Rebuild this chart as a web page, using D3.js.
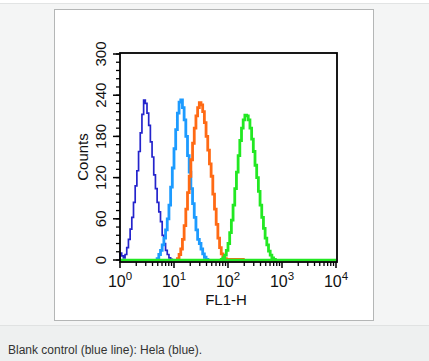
<!DOCTYPE html>
<html>
<head>
<meta charset="utf-8">
<script src="https://cdn.jsdelivr.net/npm/d3@7/dist/d3.min.js"></script>
<style>
  html, body { margin: 0; padding: 0; background: #f4f5f5; }
  svg { display: block; }
</style>
</head>
<body>
<svg id="chart" width="429" height="361"></svg>
<script>
// ---- data (bins are 1/32 decade channels on a 10^0..10^4 log axis) ----
const binsPerDecade = 32;
const xTickValues = [1, 10, 100, 1000, 10000];
const xTickExponents = ["0", "1", "2", "3", "4"];
const yTickValues = [0, 60, 120, 180, 240, 300];
const seriesNames = ["Blank control", "Sample A", "Sample B", "Sample C"];
const seriesColors = ["#2424cc", "#1d9bff", "#ff6a14", "#22e822"];
const seriesStartBin = [0, 22, 34, 60];
const darkBlueCounts = [10, 6, 3, 8, 18, 30, 45, 62, 84, 108, 130, 158, 185, 212, 233, 228, 214, 196, 172, 150, 124, 104, 84, 70, 56, 36, 24, 14, 8, 3, 1, 0];
const lightBlueCounts = [2, 8, 14, 22, 32, 44, 60, 80, 106, 134, 162, 190, 214, 230, 233, 222, 204, 180, 152, 128, 104, 82, 62, 44, 30, 24, 16, 9, 4, 1, 0];
const orangeCounts = [2, 8, 16, 30, 50, 74, 98, 122, 146, 170, 192, 210, 222, 229, 226, 216, 200, 180, 160, 140, 122, 96, 74, 52, 32, 18, 9, 4, 2, 1, 1, 1, 1, 1, 1, 1, 1, 1, 1, 0];
const greenCounts = [1, 3, 7, 14, 24, 40, 58, 80, 104, 128, 152, 174, 192, 204, 211, 210, 204, 192, 176, 158, 138, 120, 100, 80, 62, 46, 32, 22, 13, 7, 3, 1, 0];
const seriesCounts = [darkBlueCounts, lightBlueCounts, orangeCounts, greenCounts];
const seriesWidths = [1.7, 2.8, 2.8, 2.8];
const xLabel = "FL1-H";
const yLabel = "Counts";
const caption = "Blank control (blue line): Hela (blue).";

const svg = d3.select("#chart");
const font = "'Liberation Sans', Arial, Helvetica, sans-serif";

// page chrome
svg.append("rect").attr("x", 0).attr("y", 0).attr("width", 429).attr("height", 361).attr("fill", "#f4f5f5");
svg.append("rect").attr("x", 0).attr("y", 0).attr("width", 429).attr("height", 3).attr("fill", "#ffffff");
svg.append("line").attr("x1", 0).attr("x2", 429).attr("y1", 3.5).attr("y2", 3.5).attr("stroke", "#e2e4e4");
svg.append("rect").attr("x", 54.5).attr("y", 9.5).attr("width", 319).attr("height", 311)
  .attr("fill", "#ffffff").attr("stroke", "#b4b6b6");
svg.append("rect").attr("x", 0).attr("y", 326).attr("width", 429).attr("height", 35).attr("fill", "#eef0f0");
svg.append("line").attr("x1", 0).attr("x2", 429).attr("y1", 325.5).attr("y2", 325.5).attr("stroke", "#e0e2e2");
svg.append("text").attr("x", 8).attr("y", 354).attr("font-family", font).attr("font-size", 12)
  .attr("fill", "#333").text(caption);

// scales
const x = d3.scaleLog().domain([1, 10000]).range([120, 336]);
const y = d3.scaleLinear().domain([0, 300]).range([260, 54]);

const g = svg.append("g");

// histograms as step curves
const binX = b => Math.pow(10, b / binsPerDecade);
seriesCounts.forEach((counts, si) => {
  const start = seriesStartBin[si];
  const pts = [[binX(start), 0]];
  counts.forEach((c, k) => {
    pts.push([binX(start + k), c]);
    pts.push([binX(start + k + 1), c]);
  });
  pts.push([binX(start + counts.length), 0]);
  const line = d3.line().x(d => x(d[0])).y(d => y(d[1]));
  if (si === 3) {
    // green baseline across the whole axis
    g.append("path").attr("d", line([[1, 0], [10000, 0]]))
      .attr("stroke", seriesColors[si]).attr("stroke-width", 2.6).attr("fill", "none");
  }
  g.append("path").attr("d", line(pts)).attr("fill", "none")
    .attr("stroke", seriesColors[si]).attr("stroke-width", seriesWidths[si])
    .attr("stroke-linejoin", "miter");
});

// frame
svg.append("rect").attr("x", 120).attr("y", 53).attr("width", 217).attr("height", 209)
  .attr("fill", "none").attr("stroke", "#000").attr("stroke-width", 1.8);

// y axis ticks
const yMinor = d3.range(0, 301, 12);
const yAx = svg.append("g");
yAx.selectAll("line.minor").data(yMinor).enter().append("line")
  .attr("x1", 116).attr("x2", 120).attr("y1", d => y(d)).attr("y2", d => y(d))
  .attr("stroke", "#000").attr("stroke-width", 1.3);
yAx.selectAll("line.major").data(yTickValues).enter().append("line")
  .attr("x1", 113).attr("x2", 120).attr("y1", d => y(d)).attr("y2", d => y(d))
  .attr("stroke", "#000").attr("stroke-width", 1.5);
yAx.selectAll("text").data(yTickValues).enter().append("text")
  .attr("transform", d => `translate(106,${y(d)}) rotate(-90)`)
  .attr("text-anchor", "middle").attr("font-family", font).attr("font-size", 15)
  .attr("fill", "#111").text(d => d);

// x axis ticks
const xMinor = [];
for (let dec = 1; dec < 10000; dec *= 10) for (let m = 2; m <= 9; m++) xMinor.push(dec * m);
const xAx = svg.append("g");
xAx.selectAll("line.minor").data(xMinor).enter().append("line")
  .attr("x1", d => x(d)).attr("x2", d => x(d)).attr("y1", 262).attr("y2", 266)
  .attr("stroke", "#000").attr("stroke-width", 1.3);
xAx.selectAll("line.major").data(xTickValues).enter().append("line")
  .attr("x1", d => x(d)).attr("x2", d => x(d)).attr("y1", 262).attr("y2", 268)
  .attr("stroke", "#000").attr("stroke-width", 1.5);
const xt = xAx.selectAll("text").data(xTickValues).enter().append("text")
  .attr("x", d => x(d)).attr("y", 287).attr("text-anchor", "middle")
  .attr("font-family", font).attr("font-size", 16).attr("fill", "#111");
xt.append("tspan").text("10");
xt.append("tspan").attr("dy", -7).attr("font-size", 11.5).text((d, i) => xTickExponents[i]);

// axis titles
svg.append("text").attr("x", 226).attr("y", 305).attr("text-anchor", "middle")
  .attr("font-family", font).attr("font-size", 15).attr("fill", "#111").text(xLabel);
svg.append("text").attr("transform", "translate(88,157) rotate(-90)").attr("text-anchor", "middle")
  .attr("font-family", font).attr("font-size", 15).attr("fill", "#111").text(yLabel);
</script>
</body>
</html>
